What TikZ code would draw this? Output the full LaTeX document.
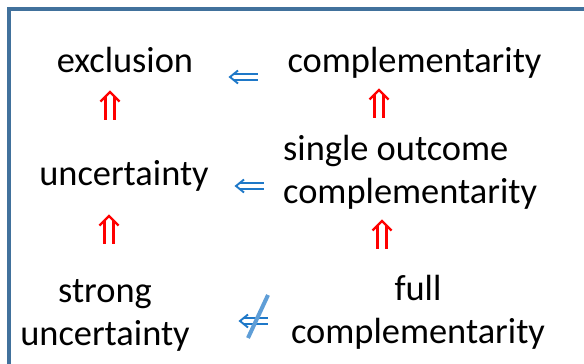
\documentclass[tikz,border=0pt]{standalone}
\usepackage{fontspec}
\setmainfont{Carlito}
\usetikzlibrary{calc}
\definecolor{frameblue}{RGB}{65,113,156}
\definecolor{arrowblue}{RGB}{30,120,200}
\definecolor{slashblue}{RGB}{95,158,215}
\begin{document}
\begin{tikzpicture}[x=1pt,y=-1pt]
\tikzset{
 concept/.style={font=\fontsize{36.4}{43}\selectfont, inner sep=0pt, align=center},
 framestyle/.style={draw=frameblue, line width=4pt},
 leftimp/.pic={
   \draw[arrowblue, line width=1.9pt, line join=miter] (-6,-6.5) -- (-14,0) -- (-6,6.5);
   \draw[arrowblue, line width=1.9pt] (-10.5,-2.7) -- (14,-2.7) (-10.5,2.7) -- (14,2.7);
 },
 upimp/.pic={
   \draw[red, line width=2.2pt, line join=miter] (-9.5,-4.5) -- (0,-14) -- (9.5,-4.5);
   \draw[red, line width=2.2pt] (-4.5,-9.5) -- (-4.5,14) (4.5,-9.5) -- (4.5,14);
 },
}
\useasboundingbox (0,0) rectangle (584,364);
\clip (0,0) rectangle (584,364);
\fill[white] (0,0) rectangle (584,364);
\draw[framestyle] (9,420) rectangle (640,9);

\node[concept, anchor=base] (excl) at (125,72) {exclusion};
\node[concept, anchor=base] (compl) at (414.5,72) {complementarity};
\node[concept, anchor=base] (unc) at (124,185) {uncertainty};
\node[concept, align=left, anchor=base west] (soc) at (283,203) {single outcome\\complementarity};
\node[concept, anchor=base] (sunc) at (105,345) {strong\\uncertainty};
\node[concept, anchor=base] (fcompl) at (418,343) {full\\complementarity};

\coordinate (i1) at (244,77);
\coordinate (i2) at (250,186);
\coordinate (i3) at (254,321);
\pic at (i1) {leftimp};
\pic at (i2) {leftimp};
\pic at (i3) {leftimp};
\draw[slashblue, line width=4pt] ($(i3)+(-6,17)$) -- ($(i3)+(14,-26)$);

\coordinate (u1) at (110,106);
\coordinate (u2) at (379,104);
\coordinate (u3) at (109,230);
\coordinate (u4) at (382,235);
\pic at (u1) {upimp};
\pic at (u2) {upimp};
\pic at (u3) {upimp};
\pic at (u4) {upimp};
\end{tikzpicture}
\end{document}
